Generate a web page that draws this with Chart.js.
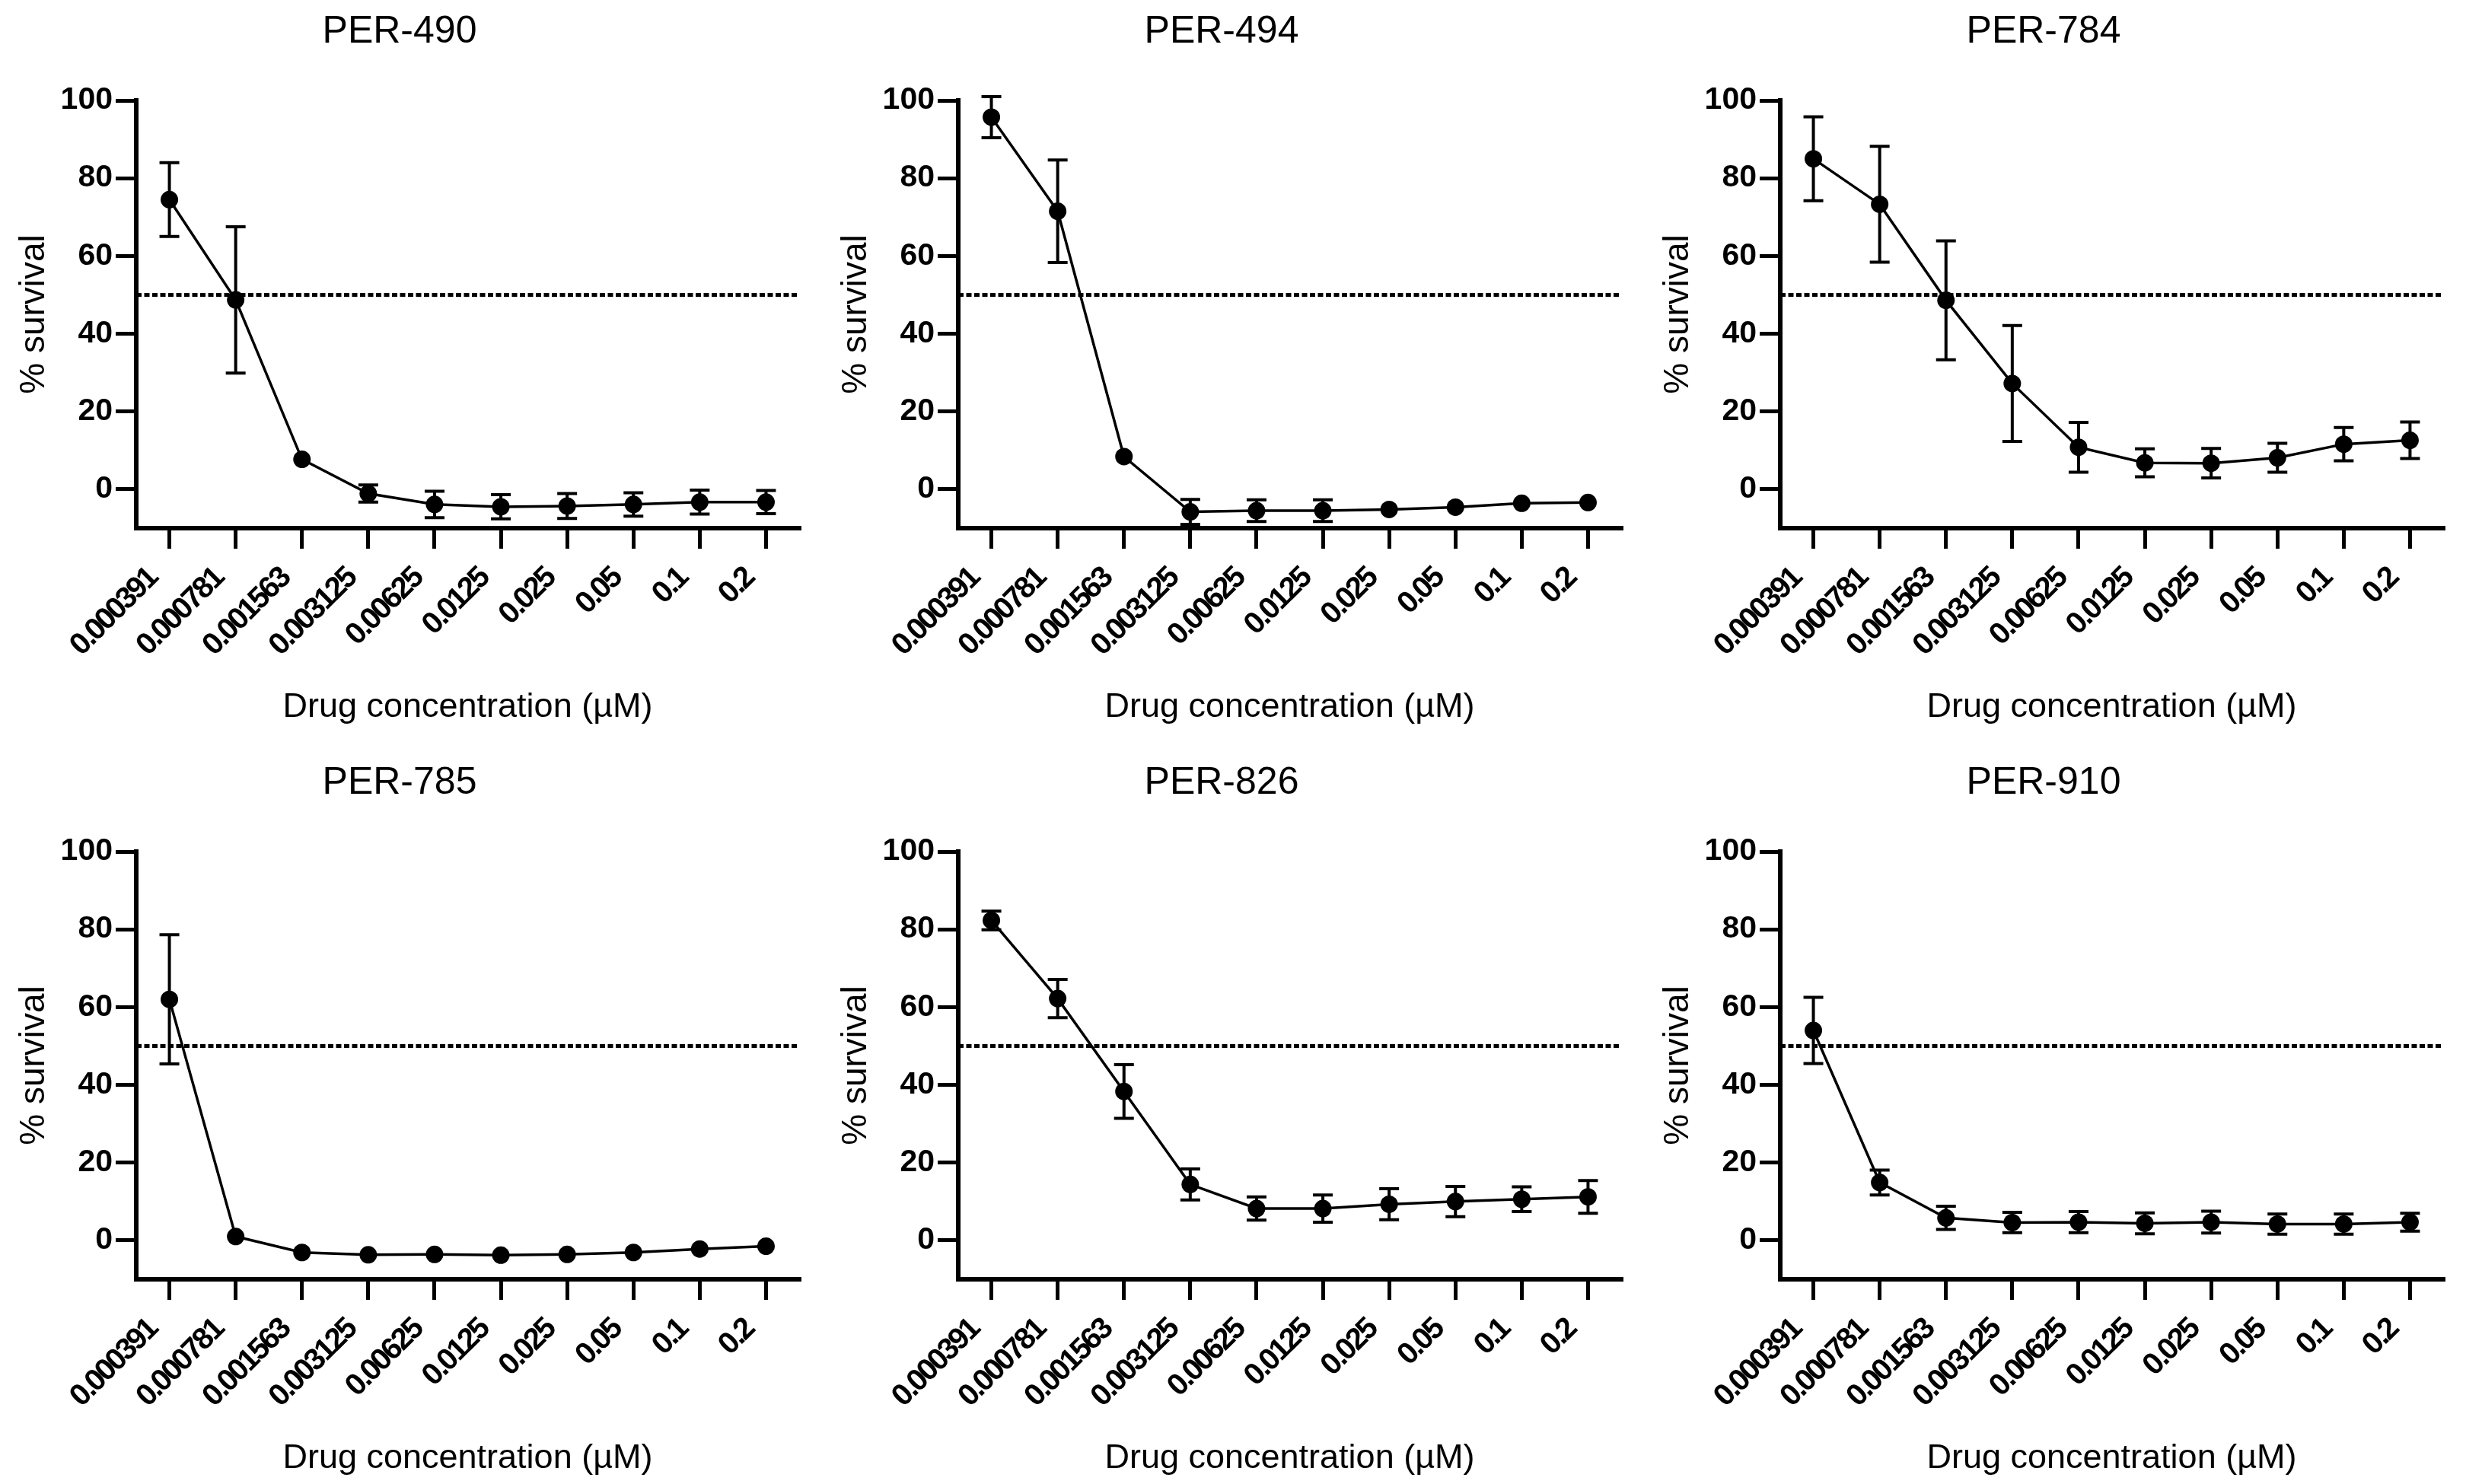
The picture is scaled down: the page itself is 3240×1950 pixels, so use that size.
<!DOCTYPE html>
<html>
<head>
<meta charset="utf-8">
<script src="https://cdn.jsdelivr.net/npm/chart.js@4.4.0/dist/chart.umd.min.js"></script>
<style>
  html, body { margin:0; padding:0; background:#fff; }
  body { width:3240px; height:1950px; position:relative; overflow:hidden; }
  canvas { position:absolute; }
</style>
</head>
<body>
<canvas id="c0"></canvas>
<canvas id="c1"></canvas>
<canvas id="c2"></canvas>
<canvas id="c3"></canvas>
<canvas id="c4"></canvas>
<canvas id="c5"></canvas>
<script>
// concentrations (uM)
const concLabels = ['0.000391','0.000781','0.001563','0.003125','0.00625','0.0125','0.025','0.05','0.1','0.2'];
const yTicks = [0, 20, 40, 60, 80, 100];
const cutoff = 50;

// % survival, mean and error
const per490Mean = [74.5, 48.7, 7.7, -1.1, -3.9, -4.5, -4.3, -3.9, -3.3, -3.3];
const per490Err  = [9.5, 18.8, 0, 2.2, 3.4, 3.1, 3.2, 3.0, 3.1, 3.0];
const per494Mean = [95.7, 71.5, 8.4, -5.8, -5.5, -5.5, -5.2, -4.6, -3.6, -3.4];
const per494Err  = [5.3, 13.2, 0, 3.2, 2.8, 2.8, 0, 0, 0, 0];
const per784Mean = [85.0, 73.3, 48.6, 27.2, 10.8, 6.8, 6.7, 8.1, 11.6, 12.6];
const per784Err  = [10.8, 14.9, 15.3, 14.9, 6.4, 3.6, 3.8, 3.7, 4.3, 4.7];
const per785Mean = [62.0, 1.0, -3.1, -3.7, -3.6, -3.8, -3.6, -3.1, -2.2, -1.5];
const per785Err  = [16.6, 0, 0, 0, 0, 0, 0, 0, 0, 0];
const per826Mean = [82.3, 62.2, 38.3, 14.4, 8.2, 8.2, 9.3, 10.0, 10.6, 11.2];
const per826Err  = [2.4, 4.9, 6.9, 4.0, 3.0, 3.5, 4.0, 3.9, 3.2, 4.2];
const per910Mean = [54.0, 14.9, 5.8, 4.6, 4.7, 4.4, 4.7, 4.2, 4.2, 4.7];
const per910Err  = [8.5, 3.2, 3.0, 2.6, 2.7, 2.7, 2.8, 2.6, 2.6, 2.3];

const panels = [
  {title:'PER-490', mean:per490Mean, err:per490Err},
  {title:'PER-494', mean:per494Mean, err:per494Err},
  {title:'PER-784', mean:per784Mean, err:per784Err},
  {title:'PER-785', mean:per785Mean, err:per785Err},
  {title:'PER-826', mean:per826Mean, err:per826Err},
  {title:'PER-910', mean:per910Mean, err:per910Err}
];

const FONT = '"Liberation Sans", Arial, sans-serif';
const W = 1080, H = 962;

// error bars + 50% dotted line, drawn under the points
const errorBars = {
  id:'errorBars',
  beforeDatasetsDraw(chart){
    const {ctx, chartArea, scales:{x, y}} = chart;
    const ds = chart.data.datasets[0];
    ctx.save();
    // 50% line
    ctx.strokeStyle = '#000';
    ctx.lineWidth = 5;
    ctx.setLineDash([7,3.5]);
    const yc = y.getPixelForValue(cutoff);
    ctx.beginPath(); ctx.moveTo(chartArea.left, yc); ctx.lineTo(chartArea.right, yc); ctx.stroke();
    ctx.setLineDash([]);
    ctx.lineWidth = 4;
    ds.data.forEach((v,i)=>{
      const e = ds.err[i];
      if(!e) return;
      const px = x.getPixelForValue(i);
      const top = y.getPixelForValue(v+e), bot = y.getPixelForValue(v-e);
      ctx.beginPath();
      ctx.moveTo(px, top); ctx.lineTo(px, bot);
      ctx.moveTo(px-13, top); ctx.lineTo(px+13, top);
      ctx.moveTo(px-13, bot); ctx.lineTo(px+13, bot);
      ctx.stroke();
    });
    ctx.restore();
  }
};

// tighter letter spacing for the rotated concentration labels
const tightLabels = {
  id:'tightLabels',
  beforeDraw(chart){
    const s = chart.scales.x;
    if(s._tight) return;
    const orig = s.drawLabels.bind(s);
    s.drawLabels = function(area){
      chart.ctx.save();
      chart.ctx.letterSpacing = '-3px';
      orig(area);
      chart.ctx.restore();
    };
    s._tight = true;
  }
};

panels.forEach((p, k)=>{
  const cv = document.getElementById('c'+k);
  cv.width = W; cv.height = H;
  cv.style.left = (k%3)*W + 'px';
  cv.style.top = (k<3 ? 0 : 987) + 'px';
  new Chart(cv.getContext('2d'), {
    type:'line',
    data:{
      labels:concLabels,
      datasets:[{
        data:p.mean, err:p.err,
        borderColor:'#000', borderWidth:3.5, tension:0,
        pointRadius:11.5, pointBackgroundColor:'#000', pointBorderColor:'#000', pointBorderWidth:0
      }]
    },
    options:{
      responsive:false, animation:false, devicePixelRatio:1,
      layout:{padding:{left:0, right:30, top:0, bottom:0}},
      plugins:{
        legend:{display:false}, tooltip:{enabled:false},
        title:{display:true, text:p.title, color:'#000',
          font:{family:FONT, size:50, weight:'normal'}, padding:{top:12, bottom:60}}
      },
      scales:{
        x:{
          type:'category', offset:true,
          grid:{drawOnChartArea:false, color:'#000', lineWidth:5, tickLength:27},
          border:{color:'#000', width:6},
          ticks:{color:'#000', font:{family:FONT, size:40, weight:'bold'},
            autoSkip:false, minRotation:45, maxRotation:45, padding:16, labelOffset:-22},
          title:{display:true, text:'Drug concentration (\u00b5M)', color:'#000',
            font:{family:FONT, size:45, weight:'normal'}, padding:{top:0, bottom:5}},
          afterFit(s){ s.height = H - 694; }
        },
        y:{
          min:-10, max:100,
          afterBuildTicks(s){ s.ticks = yTicks.map(v=>({value:v})); },
          grid:{drawOnChartArea:false, color:'#000', lineWidth:5, tickLength:27},
          border:{color:'#000', width:6},
          ticks:{color:'#000', font:{family:FONT, size:41, weight:'bold'}, padding:4},
          title:{display:true, text:'% survival', color:'#000',
            font:{family:FONT, size:46, weight:'normal'}, padding:{top:18, bottom:0}},
          afterFit(s){ s.width = 179; }
        }
      }
    },
    plugins:[errorBars, tightLabels]
  });
});
</script>
</body>
</html>
